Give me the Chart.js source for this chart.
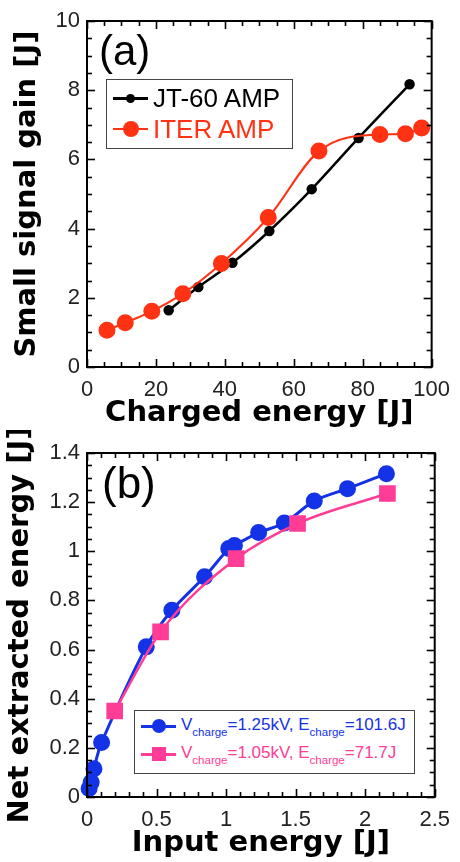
<!DOCTYPE html>
<html>
<head>
<meta charset="utf-8">
<script src="https://cdn.jsdelivr.net/npm/chart.js@4.4.0/dist/chart.umd.min.js"></script>
<style>
  body { margin:0; background:#fff; font-family:"Liberation Sans", Arial, sans-serif; }
  #wrap { position:relative; width:460px; height:862px; overflow:hidden; }
  canvas { position:absolute; left:0; }
  .panel { position:absolute; font-size:42px; line-height:1; color:#000; }
  .leg { position:absolute; border:1px solid #444; background:#fff; box-sizing:border-box; }
  .row { position:absolute; left:0; right:0; }
  .ln { position:absolute; }
  .mk { position:absolute; }
  .tx { position:absolute; white-space:nowrap; }
  .tx sub { font-size:11.5px; vertical-align:-6px; }
</style>
</head>
<body>
<div id="wrap">
  <canvas id="chartA" width="460" height="430" style="top:0"></canvas>
  <canvas id="chartB" width="460" height="432" style="top:430px"></canvas>

  <div class="panel" style="left:99px;top:30px">(a)</div>
  <div class="panel" style="left:102px;top:461px;font-size:44px">(b)</div>

  <!-- legend (a) -->
  <div class="leg" style="left:106px;top:79px;width:187px;height:70px">
    <div class="row" style="top:18px">
      <div class="ln" style="left:6px;width:35px;top:-1px;height:3px;background:#000"></div>
      <div class="mk" style="left:19px;top:-4px;width:9px;height:9px;border-radius:50%;background:#000"></div>
      <div class="tx" style="left:46px;top:-15px;font-size:26px;line-height:30px;color:#000">JT-60 AMP</div>
    </div>
    <div class="row" style="top:49px">
      <div class="ln" style="left:6px;width:35px;top:-1px;height:2px;background:#ff3214"></div>
      <div class="mk" style="left:16px;top:-8px;width:16px;height:16px;border-radius:50%;background:#ff3214"></div>
      <div class="tx" style="left:46px;top:-15px;font-size:26px;line-height:30px;color:#ff3214">ITER AMP</div>
    </div>
  </div>

  <!-- legend (b) -->
  <div class="leg" style="left:134px;top:710px;width:281px;height:64px">
    <div class="row" style="top:15px">
      <div class="ln" style="left:6px;width:35px;top:-1px;height:3px;background:#1432e6"></div>
      <div class="mk" style="left:17px;top:-7px;width:14px;height:14px;border-radius:50%;background:#1432e6"></div>
      <div class="tx" style="left:46px;top:-11px;font-size:17px;line-height:20px;color:#1432e6">V<sub>charge</sub>=1.25kV, E<sub>charge</sub>=101.6J</div>
    </div>
    <div class="row" style="top:43px">
      <div class="ln" style="left:6px;width:35px;top:-1px;height:3px;background:#ff3c96"></div>
      <div class="mk" style="left:17px;top:-7px;width:14px;height:14px;background:#ff3c96"></div>
      <div class="tx" style="left:46px;top:-11px;font-size:17px;line-height:20px;color:#ff3c96">V<sub>charge</sub>=1.05kV, E<sub>charge</sub>=71.7J</div>
    </div>
  </div>
</div>

<script>
// ---- (a) small signal gain vs charged energy ----
const jtEnergy = [23.7, 32.3, 42.2, 52.9, 65.2, 78.8, 93.6];
const jtGain   = [1.64, 2.31, 3.01, 3.93, 5.14, 6.62, 8.17];
const iterEnergy = [5.8, 11.1, 18.8, 27.8, 39.0, 52.6, 67.3, 85.0, 92.4, 97.1];
const iterGain   = [1.06, 1.28, 1.61, 2.12, 2.99, 4.32, 6.24, 6.72, 6.74, 6.91];
const xTicksA = [0, 20, 40, 60, 80, 100];
const yTicksA = [0, 2, 4, 6, 8, 10];

// ---- (b) net extracted energy vs input energy ----
const blueInput = [0.015, 0.03, 0.05, 0.105, 0.426, 0.61, 0.845, 1.019, 1.06, 1.234, 1.419, 1.634, 1.873, 2.153];
const blueOut   = [0.035, 0.06, 0.115, 0.222, 0.611, 0.76, 0.896, 1.011, 1.024, 1.076, 1.115, 1.205, 1.255, 1.316];
const pinkInput = [0.199, 0.529, 1.072, 1.514, 2.16];
const pinkOut   = [0.35, 0.672, 0.97, 1.113, 1.235];
const xTicksB = [0, 0.5, 1, 1.5, 2, 2.5];
const yTicksB = [0, 0.2, 0.4, 0.6, 0.8, 1, 1.2, 1.4];

const FONT = '"Liberation Sans", Arial, sans-serif';
const TITLE_FONT = '"DejaVu Sans", sans-serif';

function pts(xs, ys) { return xs.map((x, i) => ({x: x, y: ys[i]})); }

// frame + inward ticks on all four sides
const frameTicks = {
  id: 'frameTicks',
  afterDraw(chart, args, o) {
    const {ctx, chartArea: a} = chart;
    const x = chart.scales.x, y = chart.scales.y;
    ctx.save();
    ctx.strokeStyle = '#000';
    ctx.lineWidth = 1.6;
    function seg(x1, y1, x2, y2) { ctx.beginPath(); ctx.moveTo(x1, y1); ctx.lineTo(x2, y2); ctx.stroke(); }
    let n = Math.round((x.max - x.min) / o.xMinor);
    for (let i = 0; i <= n; i++) {
      const v = x.min + i * o.xMinor;
      const r = v / o.xMajor;
      const L = Math.abs(r - Math.round(r)) < 1e-6 ? 8 : 5;
      const px = Math.round(x.getPixelForValue(v)) + 0.5;
      seg(px, a.bottom, px, a.bottom - L);
      seg(px, a.top, px, a.top + L);
    }
    n = Math.round((y.max - y.min) / o.yMinor);
    for (let i = 0; i <= n; i++) {
      const v = y.min + i * o.yMinor;
      const r = v / o.yMajor;
      const L = Math.abs(r - Math.round(r)) < 1e-6 ? 8 : 5;
      const py = Math.round(y.getPixelForValue(v)) + 0.5;
      seg(a.left, py, a.left + L, py);
      seg(a.right, py, a.right - L, py);
    }
    ctx.lineWidth = 2;
    ctx.strokeRect(a.left, a.top, a.right - a.left, a.bottom - a.top);
    ctx.restore();
  }
};

function axis(min, max, tickVals, title, titlePad, fitProp, fitVal, tickPad) {
  return {
    type: 'linear', min: min, max: max,
    afterBuildTicks: s => { s.ticks = tickVals.map(v => ({value: v})); },
    afterFit: s => { s[fitProp] = fitVal; },
    grid: { display: false, drawTicks: false },
    border: { display: false },
    ticks: {
      color: '#222', padding: tickPad,
      font: { family: FONT, size: 22 },
      callback: v => String(Math.round(v * 100) / 100)
    },
    title: {
      display: true, text: title, color: '#000',
      font: { family: TITLE_FONT, size: 29, weight: 'bold', lineHeight: 1 },
      padding: titlePad
    }
  };
}

new Chart(document.getElementById('chartA'), {
  type: 'line',
  data: {
    datasets: [
      {
        label: 'ITER AMP', data: pts(iterEnergy, iterGain),
        borderColor: '#ff3214', backgroundColor: '#ff3214', borderWidth: 2,
        pointRadius: 7.5, pointHoverRadius: 7.5, cubicInterpolationMode: 'monotone', clip: false
      },
      {
        label: 'JT-60 AMP', data: pts(jtEnergy, jtGain),
        borderColor: '#000', backgroundColor: '#000', borderWidth: 2.5,
        pointRadius: 4, pointHoverRadius: 4, tension: 0.25, clip: false
      }
    ]
  },
  options: {
    responsive: false, animation: false, devicePixelRatio: 1,
    layout: { padding: { left: 0, right: 24, top: 21, bottom: 0 } },
    plugins: { legend: { display: false }, tooltip: { enabled: false },
      frameTicks: { xMinor: 5, xMajor: 20, yMinor: 0.5, yMajor: 2 } },
    scales: {
      x: axis(0, 100, xTicksA, 'Charged energy [J]', { top: 0, bottom: 2.5 }, 'height', 63, 10),
      y: axis(0, 10, yTicksA, 'Small signal gain [J]', { top: 12.5, bottom: 0 }, 'width', 87, 7)
    }
  },
  plugins: [frameTicks]
});

new Chart(document.getElementById('chartB'), {
  type: 'line',
  data: {
    datasets: [
      {
        label: 'Vcharge=1.05kV, Echarge=71.7J', data: pts(pinkInput, pinkOut),
        borderColor: '#ff3c96', backgroundColor: '#ff3c96', borderWidth: 2.5,
        pointStyle: 'rect', pointRadius: 10, pointHoverRadius: 10,
        cubicInterpolationMode: 'monotone', clip: false
      },
      {
        label: 'Vcharge=1.25kV, Echarge=101.6J', data: pts(blueInput, blueOut),
        borderColor: '#1432e6', backgroundColor: '#1432e6', borderWidth: 3,
        pointRadius: 7, pointHoverRadius: 7, tension: 0.3, clip: false
      }
    ]
  },
  options: {
    responsive: false, animation: false, devicePixelRatio: 1,
    layout: { padding: { left: 0, right: 24, top: 23, bottom: 0 } },
    plugins: { legend: { display: false }, tooltip: { enabled: false },
      frameTicks: { xMinor: 0.1, xMajor: 0.5, yMinor: 0.05, yMajor: 0.2 } },
    scales: {
      x: axis(0, 2.5, xTicksB, 'Input energy [J]', { top: 0, bottom: 4.5 }, 'height', 65, 10),
      y: axis(0, 1.4, yTicksB, 'Net extracted energy [J]', { top: 5.5, bottom: 0 }, 'width', 87, 7)
    }
  },
  plugins: [frameTicks]
});
</script>
</body>
</html>
